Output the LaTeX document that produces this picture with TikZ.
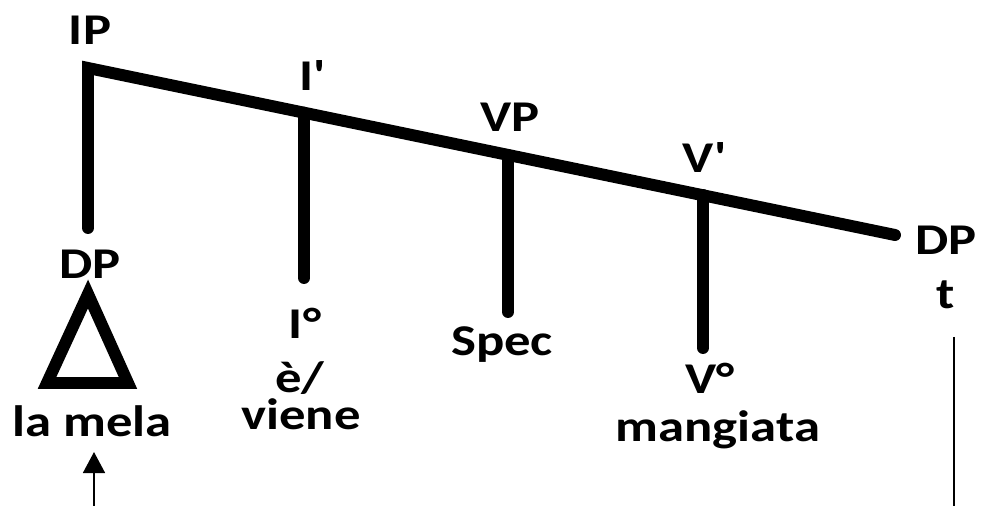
\documentclass[tikz,border=0pt]{standalone}
\usepackage{fontspec}
\setmainfont{Carlito}[Ligatures=TeXOff]
\usetikzlibrary{arrows.meta}
\tikzset{
	branch/.style={line width=6.8pt,line cap=round,line join=miter},
	lbl/.style={font=\fontsize{25}{28}\selectfont\bfseries,inner sep=0pt,xscale=1.2},
	thin/.style={line width=1.1pt}
}

\begin{document}
\begin{tikzpicture}[x=0.02cm,y=-0.02cm]
			\useasboundingbox (0,0) rectangle (981,506);
			% branch points
			\coordinate (ip) at (88,68);
			\coordinate (ibar) at (304,112.7);
			\coordinate (vp) at (508,155);
			\coordinate (vbar) at (703,195);
			\coordinate (dpr) at (895,235);
			\coordinate (ipdown) at (88,228);
			\coordinate (ibardown) at (304,278);
			\coordinate (vpdown) at (508,312);
			\coordinate (vbardown) at (703,348);
			% labels
			\node[lbl] (lip) at (90,30) {IP};
			\node[lbl] (libar) at (313,76) {I'};
			\node[lbl] (lvp) at (510,117) {VP};
			\node[lbl] (lvbar) at (705,158) {V'};
			\node[lbl] (ldp) at (90,264) {DP};
			\node[lbl] (ldpr) at (946,240) {DP};
			\node[lbl] (lt) at (946,295) {t};
			\node[lbl] (lizero) at (305,323) {I°};
			\node[lbl] (le) at (300,378) {è/};
			\node[lbl] (lviene) at (301,414) {viene};
			\node[lbl] (lspec) at (502,345) {Spec};
			\node[lbl] (lvzero) at (710,378) {V°};
			\node[lbl] (lmang) at (718,430) {mangiata};
			\node[lbl] (lmela) at (92,421) {la mela};
			% tree
			\draw[branch] (ipdown) -- (ip) -- (dpr);
			\draw[branch] (ibar) -- (ibardown);
			\draw[branch] (vp) -- (vpdown);
			\draw[branch] (vbar) -- (vbardown);
			% triangle
			\draw[branch,line cap=butt] (88,294) -- (128,383) -- (47,383) -- cycle;
			% movement
			\coordinate (arrfoot) at (94,506);
			\coordinate (arrtip) at (94,452);
			\draw[thin,-{Triangle[length=12pt,width=12.5pt]}] (arrfoot) -- (arrtip);
			\coordinate (ttop) at (954,337);
			\coordinate (tfoot) at (954,506);
			\draw[thin] (ttop) -- (tfoot);
\end{tikzpicture}
\end{document}
